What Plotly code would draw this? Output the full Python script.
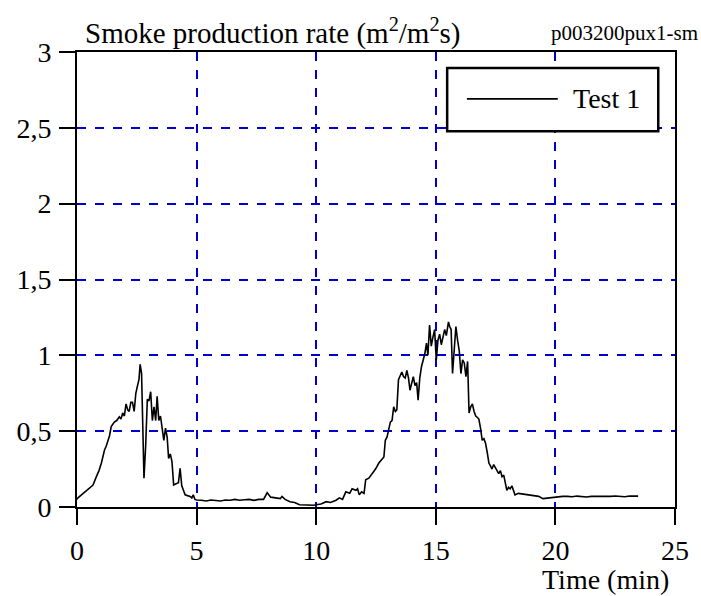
import plotly.graph_objects as go

# Time (min)
time_min = [0.0, 0.04, 0.26, 0.5, 0.67, 0.81, 0.92, 1.02, 1.15, 1.22, 1.29, 1.36, 1.43, 1.50, 1.56, 1.66, 1.77, 1.84, 1.91,
            1.98, 2.05, 2.12, 2.18, 2.25, 2.32, 2.39, 2.46, 2.53, 2.59, 2.64, 2.70, 2.80, 2.87, 2.94, 3.01, 3.08,
            3.15, 3.22, 3.29, 3.35, 3.42, 3.49, 3.56, 3.63, 3.70, 3.77, 3.83, 3.90, 3.97, 4.04, 4.10, 4.17, 4.24,
            4.31, 4.38, 4.45, 4.52, 4.62, 4.73, 4.80, 4.86, 4.93, 5.0, 5.2, 5.4, 5.6, 5.8, 6.0, 6.2, 6.4, 6.6, 6.8,
            7.0, 7.2, 7.4, 7.6, 7.8, 7.95, 8.1, 8.3, 8.5, 8.57, 8.7, 8.9, 9.1, 9.3, 9.5, 9.7, 9.9, 10.0, 10.2,
            10.42, 10.6, 10.83, 10.97, 11.1, 11.24, 11.4, 11.5, 11.66, 11.73, 11.80, 11.9, 12.0, 12.07, 12.2,
            12.35, 12.48, 12.62, 12.72, 12.83, 12.89, 12.96, 13.03, 13.10, 13.17, 13.24, 13.31, 13.37, 13.44,
            13.51, 13.58, 13.65, 13.72, 13.79, 13.86, 13.92, 13.99, 14.06, 14.13, 14.20, 14.26, 14.33, 14.40,
            14.47, 14.54, 14.61, 14.67, 14.74, 14.81, 14.88, 14.95, 15.02, 15.09, 15.16, 15.23, 15.30, 15.37,
            15.44, 15.53, 15.58, 15.64, 15.70, 15.77, 15.84, 15.91, 15.98, 16.05, 16.12, 16.19, 16.26, 16.33,
            16.39, 16.46, 16.53, 16.60, 16.67, 16.74, 16.80, 16.87, 16.94, 17.01, 17.08, 17.15, 17.22, 17.29,
            17.35, 17.42, 17.49, 17.56, 17.63, 17.70, 17.77, 17.84, 17.90, 17.97, 18.04, 18.11, 18.18, 18.25,
            18.31, 18.45, 18.65, 18.85, 19.07, 19.3, 19.48, 19.7, 19.89, 20.1, 20.3, 20.5, 20.7, 20.9, 21.1,
            21.3, 21.5, 21.7, 21.9, 22.1, 22.3, 22.5, 22.7, 22.9, 23.1, 23.3, 23.46]

# Smoke production rate (m2/m2s)
spr = [0.05, 0.06, 0.09, 0.12, 0.145, 0.20, 0.24, 0.29, 0.376, 0.40, 0.44, 0.47, 0.53, 0.55, 0.56, 0.57, 0.595, 0.58, 0.62,
       0.60, 0.68, 0.64, 0.63, 0.69, 0.69, 0.63, 0.75, 0.80, 0.84, 0.94, 0.88, 0.19, 0.40, 0.71, 0.70, 0.76,
       0.57, 0.66, 0.57, 0.73, 0.57, 0.60, 0.51, 0.44, 0.52, 0.46, 0.32, 0.35, 0.30, 0.145, 0.15, 0.155, 0.16,
       0.255, 0.14, 0.11, 0.08, 0.075, 0.07, 0.06, 0.08, 0.05, 0.046, 0.045, 0.04, 0.046, 0.042, 0.04, 0.046,
       0.045, 0.05, 0.045, 0.048, 0.05, 0.044, 0.05, 0.05, 0.094, 0.065, 0.06, 0.055, 0.07, 0.05, 0.035,
       0.03, 0.015, 0.013, 0.014, 0.012, 0.015, 0.02, 0.035, 0.03, 0.045, 0.06, 0.05, 0.10, 0.09, 0.12, 0.11,
       0.12, 0.08, 0.10, 0.09, 0.18, 0.19, 0.22, 0.25, 0.29, 0.31, 0.33, 0.44, 0.46, 0.51, 0.56, 0.57, 0.66,
       0.63, 0.64, 0.84, 0.87, 0.89, 0.86, 0.85, 0.90, 0.85, 0.77, 0.82, 0.86, 0.80, 0.82, 0.705, 0.85, 0.925,
       0.96, 1.01, 1.08, 1.00, 1.20, 1.06, 1.12, 1.17, 0.97, 1.10, 1.14, 1.07, 1.12, 1.17, 1.13, 1.22, 1.19,
       1.17, 0.88, 1.04, 1.19, 1.10, 1.03, 0.88, 0.97, 0.95, 0.86, 0.96, 0.62, 0.66, 0.68, 0.63, 0.60, 0.59,
       0.58, 0.52, 0.44, 0.45, 0.42, 0.36, 0.29, 0.27, 0.25, 0.28, 0.26, 0.23, 0.22, 0.24, 0.20, 0.21, 0.16,
       0.11, 0.13, 0.12, 0.14, 0.10, 0.08, 0.09, 0.085, 0.08, 0.075, 0.07, 0.055, 0.06, 0.065, 0.065, 0.07,
       0.07, 0.068, 0.072, 0.07, 0.066, 0.07, 0.07, 0.072, 0.068, 0.07, 0.073, 0.07, 0.068, 0.072, 0.07, 0.072]

x_ticks = [0, 5, 10, 15, 20, 25]
y_ticks = [0, 0.5, 1, 1.5, 2, 2.5, 3]
y_tick_text = ["0", "0,5", "1", "1,5", "2", "2,5", "3"]

title_text = "Smoke production rate (m<sup>2</sup>/m<sup>2</sup>s)"
code_text = "p003200pux1-sm"
x_title = "Time (min)"
series_name = "Test 1"

FONT = "Liberation Serif"
FS = 28

fig = go.Figure()
fig.add_trace(go.Scatter(x=time_min, y=spr, mode="lines", name=series_name,
                         line=dict(color="black", width=1.6), showlegend=False))

axis_common = dict(showline=True, linecolor="black", linewidth=2, mirror=True,
                   ticks="outside", ticklen=16, tickwidth=2, tickcolor="black",
                   showgrid=True, gridcolor="#0000CC", gridwidth=1.5, griddash="dash",
                   zeroline=False, tickfont=dict(family=FONT, size=FS, color="black"))

fig.update_xaxes(range=[0, 25], tickvals=x_ticks, ticklabelstandoff=1, **axis_common)
fig.update_yaxes(range=[0, 3], tickvals=y_ticks, ticktext=y_tick_text, ticklabelstandoff=2, **axis_common)

# legend box drawn manually
fig.add_shape(type="rect", xref="paper", yref="paper", x0=0.619, x1=0.972, y0=0.826, y1=0.965,
              line=dict(color="black", width=2.5), fillcolor="white", layer="above")
fig.add_shape(type="line", xref="paper", yref="paper", x0=0.652, x1=0.804, y0=0.897, y1=0.897,
              line=dict(color="black", width=1.6), layer="above")
fig.add_annotation(xref="paper", yref="paper", x=0.826, y=0.897, text=series_name, showarrow=False,
                   xanchor="left", yanchor="middle", font=dict(family=FONT, size=FS, color="black"))

fig.add_annotation(xref="paper", yref="paper", x=0.01, y=1.0, yshift=21, text=title_text, showarrow=False,
                   xanchor="left", yanchor="middle", font=dict(family=FONT, size=29, color="black"))
fig.add_annotation(xref="paper", yref="paper", x=1.0, xshift=25, y=1.0, yshift=19, text=code_text, showarrow=False,
                   xanchor="right", yanchor="middle", font=dict(family=FONT, size=21, color="black"))
fig.add_annotation(xref="paper", yref="paper", x=1.0, xshift=-4, y=0.0, yshift=-72, text=x_title, showarrow=False,
                   xanchor="right", yanchor="middle", font=dict(family=FONT, size=FS, color="black"))

fig.update_layout(width=701, height=596, margin=dict(l=77, r=17, t=52, b=89),
                  paper_bgcolor="white", plot_bgcolor="white", showlegend=False,
                  font=dict(family=FONT))

fig.write_html("out.html")
